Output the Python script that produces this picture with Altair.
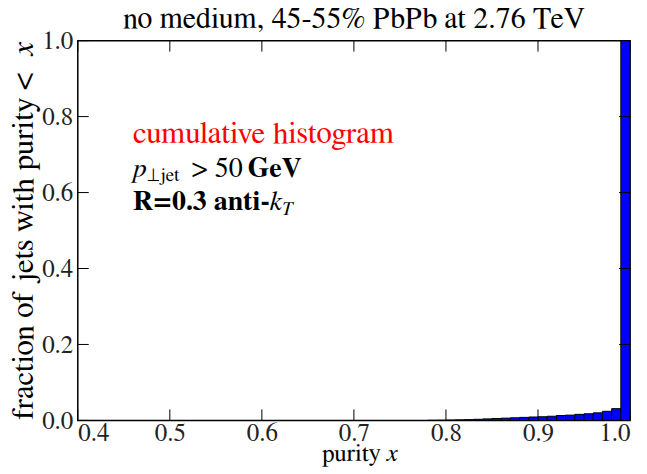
import altair as alt
import pandas as pd

# cumulative histogram bins (left edge, right edge) and fraction of jets with purity < x
bin_lo = [0.78, 0.79, 0.80, 0.81, 0.82, 0.83, 0.84, 0.85, 0.86, 0.87, 0.88,
          0.89, 0.90, 0.91, 0.92, 0.93, 0.94, 0.95, 0.96, 0.97, 0.98, 0.99]
bin_hi = [0.79, 0.80, 0.81, 0.82, 0.83, 0.84, 0.85, 0.86, 0.87, 0.88, 0.89,
          0.90, 0.91, 0.92, 0.93, 0.94, 0.95, 0.96, 0.97, 0.98, 0.99, 1.00]
fraction = [0.0002, 0.0005, 0.001, 0.0015, 0.002, 0.003, 0.004, 0.005, 0.006, 0.007, 0.008,
            0.009, 0.0097, 0.011, 0.013, 0.014, 0.016, 0.0175, 0.020, 0.024, 0.031, 1.0]

x_ticks = [0.4, 0.5, 0.6, 0.7, 0.8, 0.9, 1.0]
y_ticks = [0.0, 0.2, 0.4, 0.6, 0.8, 1.0]

FONT = "FreeSerif, Liberation Serif, serif"
W, H = 554, 381
TICK = 11

df = pd.DataFrame({"lo": bin_lo, "hi": bin_hi, "frac": fraction})
xt = pd.DataFrame({"v": x_ticks})
yt = pd.DataFrame({"v": y_ticks})

xscale = alt.Scale(domain=[0.4, 1.0], nice=False, zero=False)
yscale = alt.Scale(domain=[0.0, 1.0], nice=False)

bars = alt.Chart(df).mark_rect(color="#0000ff", stroke="black", strokeWidth=1).encode(
    x=alt.X("lo:Q", scale=xscale,
            axis=alt.Axis(values=x_ticks, format=".1f", tickSize=0, domain=False, grid=False,
                          labelFont=FONT, labelFontSize=25, labelColor="#222",
                          labelFontWeight="normal", labelPadding=0, title=None)),
    x2="hi:Q",
    y=alt.Y("frac:Q", scale=yscale,
            axis=alt.Axis(values=y_ticks, format=".1f", tickSize=0, domain=False, grid=False,
                          labelFont=FONT, labelFontSize=25, labelColor="#222",
                          labelFontWeight="normal", labelPadding=5, title=None)),
    y2=alt.datum(0),
)

xbot = alt.Chart(xt).mark_rule(color="black", strokeWidth=1).encode(
    x=alt.X("v:Q", scale=xscale), y=alt.value(H), y2=alt.value(H - TICK))
xtop = alt.Chart(xt).mark_rule(color="black", strokeWidth=1).encode(
    x=alt.X("v:Q", scale=xscale), y=alt.value(0), y2=alt.value(TICK))
yleft = alt.Chart(yt).mark_rule(color="black", strokeWidth=1).encode(
    y=alt.Y("v:Q", scale=yscale), x=alt.value(0), x2=alt.value(TICK))
yright = alt.Chart(yt).mark_rule(color="black", strokeWidth=1).encode(
    y=alt.Y("v:Q", scale=yscale), x=alt.value(W), x2=alt.value(W - TICK))


def txt(s, x, y, size=28, color="black", style="normal", dx=0, dy=0, weight="normal"):
    return alt.Chart(pd.DataFrame({"t": [s]})).mark_text(
        align="left", baseline="alphabetic", font=FONT, fontSize=size, color=color,
        fontStyle=style, fontWeight=weight, dx=dx, dy=dy).encode(
        x=alt.X(datum=x, scale=xscale), y=alt.Y(datum=y, scale=yscale), text="t:N")


def ptxt(s, px, py, size=28, style="normal", align="left", angle=0):
    return alt.Chart(pd.DataFrame({"t": [s]})).mark_text(
        align=align, baseline="alphabetic", font=FONT, fontSize=size, color="black",
        fontStyle=style, fontWeight="normal", angle=angle).encode(
        x=alt.value(px), y=alt.value(py), text="t:N")


ann = [
    txt("cumulative histogram", 0.46, 0.730, size=31, color="red"),
    txt("p", 0.46, 0.640, style="italic"),
    txt("⊥jet", 0.46, 0.640, size=19, dx=14, dy=4),
    txt(">", 0.46, 0.640, dx=59),
    txt("50", 0.46, 0.640, dx=82),
    txt("GeV", 0.46, 0.640, dx=115, weight="bold"),
    txt("R=0.3 anti-", 0.46, 0.554, weight="bold"),
    txt("k", 0.46, 0.554, style="italic", dx=137),
    txt("T", 0.46, 0.554, size=19, style="italic", dx=149, dy=5),
]

titles = [
    ptxt("no medium, 45-55% PbPb at 2.76 TeV", W / 2, -13, size=30, align="center"),
    ptxt("purity", 245, 422, size=25),
    ptxt("x", 310, 422, size=25, style="italic"),
    ptxt("fraction of jets with purity <", -45, 380, size=31, angle=270),
    ptxt("x", -45, 15, size=31, style="italic", angle=270),
]

chart = alt.layer(bars, xbot, xtop, yleft, yright, *ann, *titles).properties(
    width=W, height=H,
    autosize=alt.AutoSizeParams(type="none"),
    padding={"left": 70, "top": 32, "right": 9, "bottom": 50},
).configure_view(stroke="black", strokeWidth=1.5)

chart.save("out.html", embed_options={"renderer": "svg", "actions": False})
